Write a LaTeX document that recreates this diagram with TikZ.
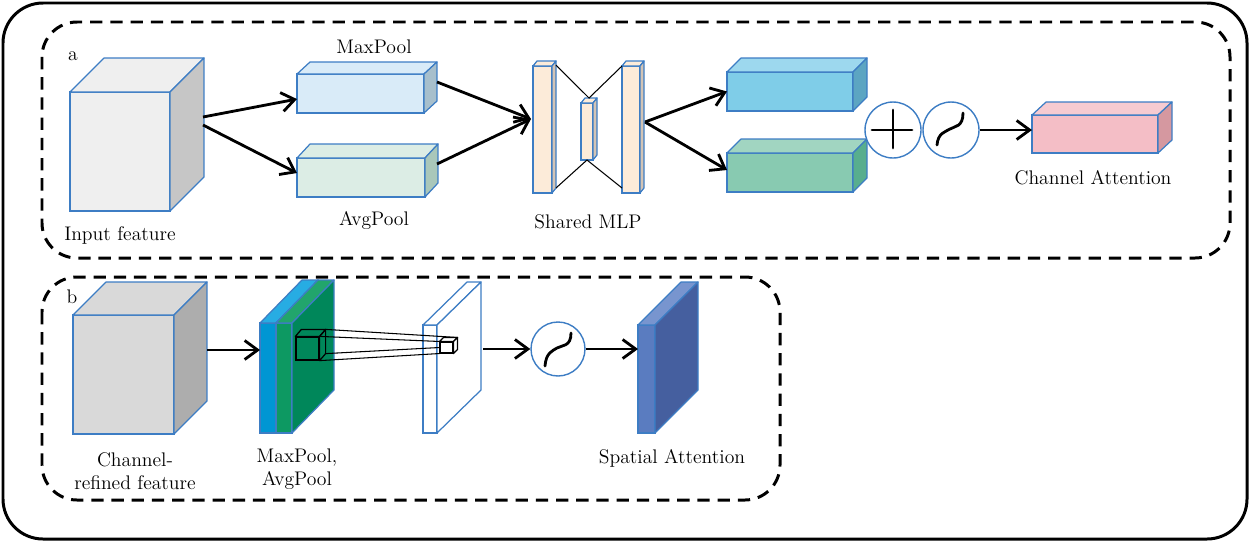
\documentclass[tikz,border=0pt]{standalone}
\usetikzlibrary{arrows.meta}
\definecolor{edge}{RGB}{61,125,196}
\definecolor{inpF}{HTML}{EFEFEF}
\definecolor{inpS}{HTML}{C6C6C6}
\definecolor{maxF}{HTML}{D9EBF8}
\definecolor{maxS}{HTML}{A7BFCC}
\definecolor{avgF}{HTML}{DCEDE5}
\definecolor{avgS}{HTML}{A9C7BA}
\definecolor{mlpF}{HTML}{FCEBD9}
\definecolor{mlpS}{HTML}{D3C4B5}
\definecolor{bluF}{HTML}{7FCDE8}
\definecolor{bluT}{HTML}{9DD8EE}
\definecolor{bluS}{HTML}{5CA5C2}
\definecolor{grnF}{HTML}{88CAB1}
\definecolor{grnT}{HTML}{A1D5C1}
\definecolor{grnS}{HTML}{58AE8E}
\definecolor{pnkF}{HTML}{F4BEC6}
\definecolor{pnkT}{HTML}{F6CBD1}
\definecolor{pnkS}{HTML}{D598A0}
\definecolor{crfF}{HTML}{D9D9D9}
\definecolor{crfS}{HTML}{ADADAD}
\definecolor{slbB}{HTML}{0096D3}
\definecolor{slbBT}{HTML}{27ACE3}
\definecolor{slbG}{HTML}{0D9962}
\definecolor{slbGT}{HTML}{22A56C}
\definecolor{slbGS}{HTML}{00875A}
\definecolor{saF}{HTML}{5A7CC0}
\definecolor{saT}{HTML}{7895CF}
\definecolor{saS}{HTML}{455F9F}

\begin{document}
\begin{tikzpicture}[x=0.02cm, y=-0.02cm,
    font=\fontsize{11.2}{13.4}\selectfont,
    face/.style = {draw=edge, line width=0.7pt, inner sep=0pt, outer sep=0pt},
    op/.style = {circle, draw=edge, line width=0.8pt, fill=white,
                minimum size=1.12cm, inner sep=0pt},
    arr/.style = {-{Straight Barb[length=2.6mm,width=3.8mm]}, line width=1.6pt},
    sig/.style = {line width=1.6pt, line cap=round},
    lbl/.style = {inner sep=0pt, align=center}
                    ]
    % top and side of a box: node, dx, dy, top fill, side fill, line colour
    \def\faces#1#2#3#4#5#6{
      \filldraw[draw=#6, fill=#4, line width=0.7pt, line join=round] (#1.north west) -- ++(#2,-#3)
        -- ([shift={(#2,-#3)}]#1.north east) -- (#1.north east) -- cycle;
      \filldraw[draw=#6, fill=#5, line width=0.7pt, line join=round] (#1.north east) -- ++(#2,-#3)
        -- ([shift={(#2,-#3)}]#1.south east) -- (#1.south east) -- cycle;
    }
    \useasboundingbox (0,0) rectangle (1250,542);
    \draw[line width=1.7pt, rounded corners=0.8cm] (3,3) rectangle (1247,539);
    \draw[line width=1.7pt, dash pattern=on 7pt off 4.5pt, rounded corners=0.7cm] (42,22) rectangle (1230,258);
    \draw[line width=1.7pt, dash pattern=on 7pt off 4.5pt, rounded corners=0.7cm] (42,277) rectangle (780,500);
    \node[lbl] at (73,56) (a) {a};
    \node[lbl] at (72,297) (b) {b};

    % part a
    \node[face, fill=inpF, minimum width=2cm, minimum height=2.38cm] at (120,151.5) (inp) {};
    \faces{inp}{34}{34}{inpF}{inpS}{edge}
    \node[face, fill=maxF, minimum width=2.54cm, minimum height=0.78cm] at (360.5,93.5) (maxp) {};
    \faces{maxp}{13}{12}{maxF}{maxS}{edge}
    \node[face, fill=avgF, minimum width=2.56cm, minimum height=0.78cm] at (361,177.5) (avgp) {};
    \faces{avgp}{13}{14}{avgF}{avgS}{edge}
    \node[face, fill=mlpF, minimum width=0.38cm, minimum height=2.54cm] at (542.5,129.5) (mlpL) {};
    \faces{mlpL}{4}{5}{mlpF}{mlpS}{edge}
    \node[face, fill=mlpF, minimum width=0.24cm, minimum height=1.14cm] at (587,131.5) (mlpM) {};
    \faces{mlpM}{4}{5}{mlpF}{mlpS}{edge}
    \node[face, fill=mlpF, minimum width=0.36cm, minimum height=2.54cm] at (631,129.5) (mlpR) {};
    \faces{mlpR}{4}{5}{mlpF}{mlpS}{edge}
    \draw[line width=0.6pt] ([shift={(4,-1)}]mlpL.north east) -- ([shift={(2,-5)}]mlpM.north) -- (mlpR.north west);
    \draw[line width=0.6pt] ([shift={(4,-5)}]mlpL.south east) -- (mlpM.south) -- ([shift={(0,-5)}]mlpR.south west);
    \node[face, fill=bluF, minimum width=2.52cm, minimum height=0.78cm] at (790,91.5) (outB) {};
    \faces{outB}{14}{14}{bluT}{bluS}{edge}
    \node[face, fill=grnF, minimum width=2.52cm, minimum height=0.78cm] at (790,172.5) (outG) {};
    \faces{outG}{14}{14}{grnT}{grnS}{edge}
    \node[op] at (893,130) (plus) {};
    \draw[sig] ([xshift=-0.42cm]plus.center) -- ([xshift=0.38cm]plus.center);
    \draw[sig] ([yshift=0.4cm]plus.center) -- ([yshift=-0.36cm]plus.center);
    \node[op] at (951,130) (sigA) {};
    \draw[sig, shift={(sigA.center)}] (-14,15) .. controls (-13,3) and (-6,2) .. (-1,-1)
        .. controls (4,-4) and (12,-3) .. (12,-17);
    \node[face, fill=pnkF, minimum width=2.52cm, minimum height=0.76cm] at (1095,134) (ca) {};
    \faces{ca}{14}{13}{pnkT}{pnkS}{edge}

    \coordinate (inpOut1) at (203,117);
    \coordinate (inpOut2) at (203,125);
    \coordinate (maxOut) at (437,82);
    \coordinate (avgOut) at (437,164);
    \coordinate (mlpIn) at (531,119);
    \coordinate (mlpOut) at (645,122);
    \draw[arr] (inpOut1) -- (maxp.185);
    \draw[arr] (inpOut2) -- (avgp.176);
    \draw[arr] (maxOut) -- (mlpIn);
    \draw[arr] (avgOut) -- (mlpIn);
    \draw[arr] (mlpOut) -- (outB.west);
    \draw[arr] (mlpOut) -- ([yshift=0.05cm]outG.west);
    \draw[arr] (sigA.east) -- (sigA.east -| ca.west);

    \node[lbl] at (120,235) (tInp) {Input feature};
    \node[lbl] at (374,47) (tMax) {MaxPool};
    \node[lbl] at (374,220) (tAvg) {AvgPool};
    \node[lbl] at (588,222) (tMlp) {Shared MLP};
    \node[lbl] at (1093,178) (tCa) {Channel Attention};

    % part b
    \node[face, fill=crfF, minimum width=2.02cm, minimum height=2.38cm] at (123.5,374.5) (crf) {};
    \faces{crf}{33}{33}{crfF}{crfS}{edge}
    \node[face, fill=slbB, minimum width=0.32cm, minimum height=2.2cm] at (268,378) (slabB) {};
    \faces{slabB}{42}{43}{slbBT}{slbB}{edge}
    \node[face, fill=slbG, minimum width=0.32cm, minimum height=2.2cm] at (284,378) (slabG) {};
    \faces{slabG}{42}{43}{slbGT}{slbGS}{edge}
    \node[draw=black, line width=0.7pt, inner sep=0pt, minimum width=0.46cm, minimum height=0.46cm] at (307.5,348.5) (kern) {};
    \faces{kern}{6}{7}{none}{none}{black}
    \node[face, fill=white, minimum width=0.28cm, minimum height=2.16cm] at (430,379) (map) {};
    \faces{map}{44}{43}{white}{white}{edge}
    \node[draw=black, fill=white, line width=0.6pt, inner sep=0pt, minimum width=0.26cm, minimum height=0.22cm] at (446.5,347.5) (dot) {};
    \faces{dot}{4}{4}{white}{white}{black}
    \draw[line width=0.6pt] ([shift={(6,-7)}]kern.north east) -- ([shift={(4,-4)}]dot.north east);
    \draw[line width=0.6pt] (kern.north east) -- (dot.north west);
    \draw[line width=0.6pt] ([shift={(6,-7)}]kern.south east) -- (dot.west);
    \draw[line width=0.6pt] (kern.south east) -- (dot.south west);
    \node[op, minimum size=1.08cm] at (558,349) (sigB) {};
    \draw[sig, shift={(sigB.center)}] (-13,17) .. controls (-12,4) and (-6,2) .. (-1,-1)
        .. controls (4,-4) and (13,-2) .. (13,-16);
    \node[face, fill=saF, minimum width=0.34cm, minimum height=2.16cm] at (646.5,379) (sa) {};
    \faces{sa}{43}{43}{saT}{saS}{edge}

    \coordinate (crfOut) at (207,350);
    \coordinate (mapOut) at (483,349);
    \draw[arr] (crfOut) -- (crfOut -| slabB.west);
    \draw[arr] (mapOut) -- (sigB.west);
    \draw[arr] (sigB.east) -- (sigB.east -| sa.west);

    \node[lbl] at (135,471) (tCrf) {Channel-\\refined feature};
    \node[lbl] at (297,469) (tPool) {MaxPool,\\AvgPool};
    \node[lbl] at (672,458) (tSa) {Spatial Attention};
\end{tikzpicture}
\end{document}
